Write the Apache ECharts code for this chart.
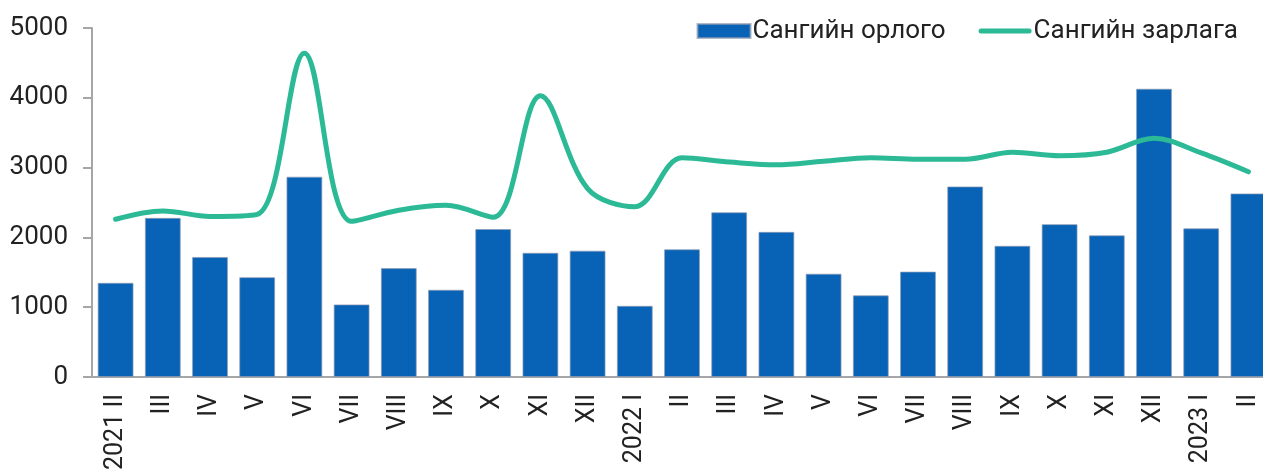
<!DOCTYPE html>
<html>
<head>
<meta charset="utf-8">
<script src="https://cdn.jsdelivr.net/npm/echarts@6/dist/echarts.min.js"></script>
<style>
  html, body { margin: 0; padding: 0; background: #fff; }
  #chart { width: 1263px; height: 470px; }
</style>
</head>
<body>
<div id="chart"></div>
<script>
// months, 2021 II .. 2023 II
const categories = ['2021 II', 'III', 'IV', 'V', 'VI', 'VII', 'VIII', 'IX', 'X', 'XI', 'XII',
  '2022 I', 'II', 'III', 'IV', 'V', 'VI', 'VII', 'VIII', 'IX', 'X', 'XI', 'XII', '2023 I', 'II'];
const income = [1350, 2280, 1720, 1430, 2870, 1040, 1560, 1250, 2120, 1780, 1810,
  1020, 1830, 2360, 2080, 1480, 1170, 1510, 2730, 1880, 2190, 2030, 4130, 2130, 2630];
const expense = [2260, 2380, 2300, 2330, 4640, 2230, 2390, 2460, 2290, 4030, 2700,
  2440, 3140, 3080, 3040, 3090, 3140, 3120, 3120, 3220, 3170, 3220, 3420, 3210, 2940];
const yTicks = [0, 1000, 2000, 3000, 4000, 5000];

const chart = echarts.init(document.getElementById('chart'));
const font = 'Roboto, "Noto Sans", sans-serif';
// thin rounded bar for the line legend
const lineIcon = 'path://M2.5,0 L50.5,0 A2.5,2.5 0 0 1 50.5,5 L2.5,5 A2.5,2.5 0 0 1 2.5,0 Z';

chart.setOption({
  animation: false,
  textStyle: { fontFamily: font },
  legend: {
    right: 20,
    top: 13,
    itemWidth: 53,
    itemHeight: 14,
    itemGap: 33,
    textStyle: { fontSize: 26, color: '#222', padding: [0, 0, 0, -3] },
    data: [
      { name: 'Сангийн орлого', icon: 'rect' },
      { name: 'Сангийн зарлага', icon: lineIcon }
    ]
  },
  grid: {
    left: 92,
    right: -9,
    top: 28,
    bottom: 93,
    outerBoundsMode: 'none'
  },
  xAxis: {
    type: 'category',
    data: categories,
    axisLine: { lineStyle: { color: '#a6a6a6', width: 2 } },
    axisTick: { show: false },
    axisLabel: {
      rotate: 90,
      fontSize: 25,
      color: '#222',
      margin: 17,
      interval: 0
    }
  },
  yAxis: {
    type: 'value',
    min: yTicks[0],
    max: yTicks[yTicks.length - 1],
    interval: 1000,
    splitLine: { show: false },
    axisLine: { show: true, lineStyle: { color: '#a6a6a6', width: 2 } },
    axisTick: { show: true, length: 9, lineStyle: { color: '#a6a6a6', width: 2 } },
    axisLabel: { fontSize: 26, color: '#222', margin: 24, formatter: v => String(v) }
  },
  series: [
    {
      name: 'Сангийн орлого',
      type: 'bar',
      data: income,
      barCategoryGap: '24%',
      itemStyle: {
        color: '#0862b6',
        borderColor: 'rgba(140,155,180,0.7)',
        borderWidth: 1
      }
    },
    {
      name: 'Сангийн зарлага',
      type: 'line',
      data: expense,
      smooth: 0.35,
      symbol: 'none',
      lineStyle: { color: '#2bb996', width: 5, cap: 'round' },
      itemStyle: { color: '#2bb996' }
    }
  ]
});
</script>
</body>
</html>
